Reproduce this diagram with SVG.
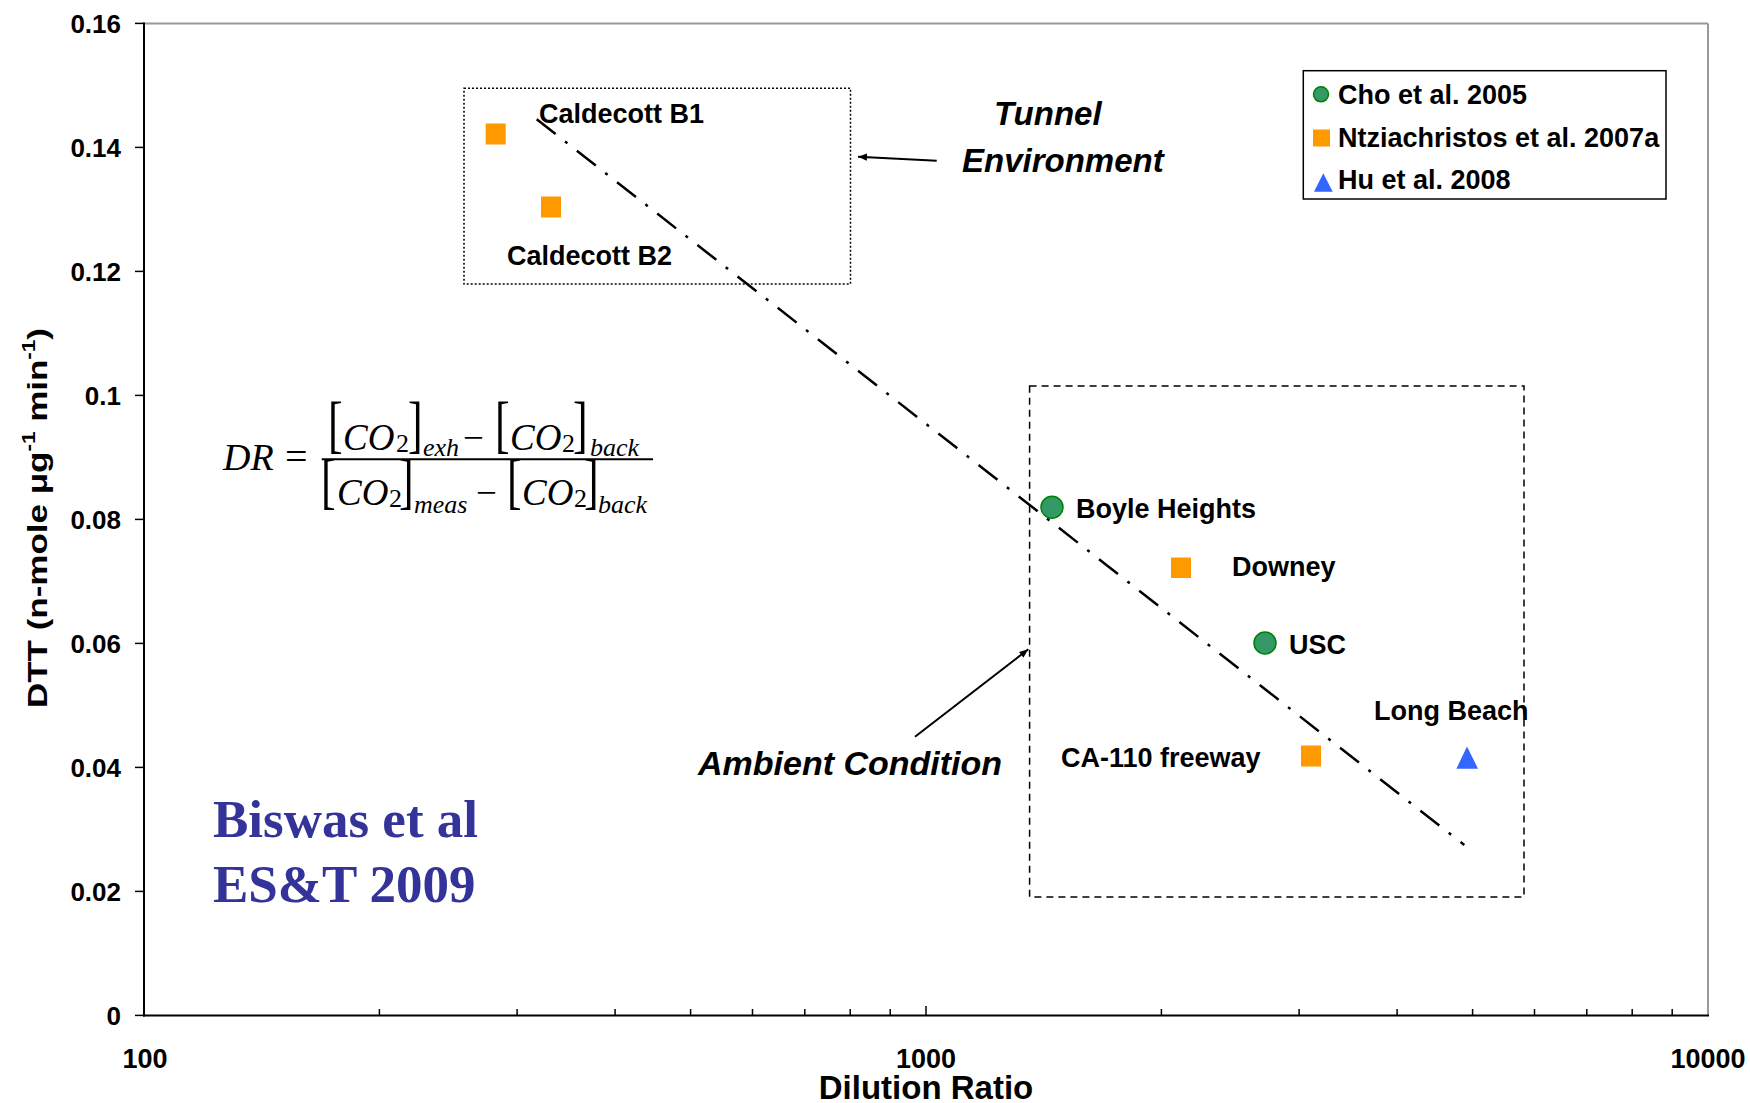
<svg xmlns="http://www.w3.org/2000/svg" width="1750" height="1103" viewBox="0 0 1750 1103">
<style>
.t{font-family:"Liberation Sans",Arial,sans-serif;font-weight:bold;fill:#000}
.tick{font-size:26px}
.xtick{font-size:27px}
.lab{font-size:27px}
.big{font-size:33px;font-style:italic}
.ax{stroke:#000;stroke-width:2;fill:none}
.tk{stroke:#000;stroke-width:1.5}
.sq{fill:#FF9900}
.ci{fill:#339966;stroke:#008000;stroke-width:1.5}
.tr{fill:#3366FF}
.eq{font-family:"Liberation Serif","Times New Roman",serif;fill:#000}
.it{font-style:italic}
.m{font-size:37px}
.s{font-size:26px}
.bn{font-size:44px}
</style>
<defs>
<marker id="ah" viewBox="0 0 10 10" refX="10" refY="5" markerWidth="9" markerHeight="9" markerUnits="userSpaceOnUse" orient="auto">
<path d="M0,1 L10,5 L0,9 z" fill="#000"/>
</marker>
</defs>
<rect width="1750" height="1103" fill="#fff"/>
<g id="plot-frame">
<line x1="144" y1="23.4" x2="1708" y2="23.4" stroke="#999" stroke-width="2"/>
<line x1="1708" y1="23.4" x2="1708" y2="1015.4" stroke="#999" stroke-width="2"/>
<line class="ax" x1="144" y1="22.4" x2="144" y2="1016.4"/>
<line class="ax" x1="143" y1="1015.4" x2="1709" y2="1015.4" stroke-width="2.5"/>
</g>
<g id="y-axis">
<g class="tk">
<line x1="135" y1="23.4" x2="144" y2="23.4"/>
<line x1="135" y1="147.4" x2="144" y2="147.4"/>
<line x1="135" y1="271.4" x2="144" y2="271.4"/>
<line x1="135" y1="395.4" x2="144" y2="395.4"/>
<line x1="135" y1="519.4" x2="144" y2="519.4"/>
<line x1="135" y1="643.4" x2="144" y2="643.4"/>
<line x1="135" y1="767.4" x2="144" y2="767.4"/>
<line x1="135" y1="891.4" x2="144" y2="891.4"/>
<line x1="135" y1="1015.4" x2="144" y2="1015.4"/>
</g>
<g class="t tick" text-anchor="end">
<text x="121" y="33">0.16</text>
<text x="121" y="157">0.14</text>
<text x="121" y="281">0.12</text>
<text x="121" y="405">0.1</text>
<text x="121" y="529">0.08</text>
<text x="121" y="653">0.06</text>
<text x="121" y="777">0.04</text>
<text x="121" y="901">0.02</text>
<text x="121" y="1025">0</text>
</g>
<text class="t" font-size="28" text-anchor="middle" textLength="380" lengthAdjust="spacingAndGlyphs" transform="translate(47,518) rotate(-90)">DTT (n-mole μg<tspan font-size="18" dy="-12">-1</tspan><tspan dy="12"> min</tspan><tspan font-size="18" dy="-12">-1</tspan><tspan dy="12">)</tspan></text>
</g>
<g id="x-axis">
<g class="tk">
<line x1="379.4" y1="1009" x2="379.4" y2="1015"/>
<line x1="517.1" y1="1009" x2="517.1" y2="1015"/>
<line x1="615.1" y1="1009" x2="615.1" y2="1015"/>
<line x1="690.6" y1="1009" x2="690.6" y2="1015"/>
<line x1="752.5" y1="1009" x2="752.5" y2="1015"/>
<line x1="804.8" y1="1009" x2="804.8" y2="1015"/>
<line x1="850.2" y1="1009" x2="850.2" y2="1015"/>
<line x1="890.2" y1="1009" x2="890.2" y2="1015"/>
<line x1="926" y1="1006" x2="926" y2="1015"/>
<line x1="1161.4" y1="1009" x2="1161.4" y2="1015"/>
<line x1="1299.1" y1="1009" x2="1299.1" y2="1015"/>
<line x1="1397.1" y1="1009" x2="1397.1" y2="1015"/>
<line x1="1472.6" y1="1009" x2="1472.6" y2="1015"/>
<line x1="1534.5" y1="1009" x2="1534.5" y2="1015"/>
<line x1="1586.8" y1="1009" x2="1586.8" y2="1015"/>
<line x1="1632.2" y1="1009" x2="1632.2" y2="1015"/>
<line x1="1672.2" y1="1009" x2="1672.2" y2="1015"/>
</g>
<g class="t xtick" text-anchor="middle">
<text x="145" y="1068">100</text>
<text x="926" y="1068">1000</text>
<text x="1708" y="1068">10000</text>
</g>
<text class="t" font-size="33" text-anchor="middle" x="926" y="1099">Dilution Ratio</text>
</g>
<g id="connectors">
<line x1="536.7" y1="119.3" x2="1464.3" y2="845" stroke="#000" stroke-width="2.5" stroke-dasharray="24 12 3 12"/>
<line x1="936.7" y1="160.7" x2="858" y2="156.7" stroke="#000" stroke-width="2" marker-end="url(#ah)"/>
<line x1="915" y1="736.7" x2="1028.3" y2="649.3" stroke="#000" stroke-width="2" marker-end="url(#ah)"/>
</g>
<g id="tunnel-box">
<rect x="464" y="88.3" width="386.5" height="195.7" fill="none" stroke="#000" stroke-width="1.5" stroke-dasharray="2 2"/>
</g>
<g id="ambient-box">
<rect x="1029.6" y="386" width="494.4" height="511" fill="none" stroke="#000" stroke-width="1.5" stroke-dasharray="7 5"/>
</g>
<g id="caldecott-b1">
<rect class="sq" x="485.7" y="123.5" width="20" height="21"/>
<text class="t lab" x="539" y="123">Caldecott B1</text>
</g>
<g id="caldecott-b2">
<rect class="sq" x="541" y="196.5" width="20" height="21"/>
<text class="t lab" x="507" y="265">Caldecott B2</text>
</g>
<g id="tunnel-label">
<text class="t big" x="994" y="125">Tunnel</text>
<text class="t big" x="962" y="172">Environment</text>
</g>
<g id="ambient-label">
<text class="t big" style="font-size:34px" x="698" y="775">Ambient Condition</text>
</g>
<g id="boyle-heights">
<circle class="ci" cx="1052" cy="507.3" r="11"/>
<text class="t lab" x="1076" y="518">Boyle Heights</text>
</g>
<g id="downey">
<rect class="sq" x="1171" y="557.5" width="20" height="20.5"/>
<text class="t lab" x="1232" y="576">Downey</text>
</g>
<g id="usc">
<circle class="ci" cx="1265" cy="643" r="11"/>
<text class="t lab" x="1289" y="653.5">USC</text>
</g>
<g id="ca-110">
<rect class="sq" x="1301" y="745.5" width="20" height="21"/>
<text class="t lab" x="1061" y="767">CA-110 freeway</text>
</g>
<g id="long-beach">
<path class="tr" d="M1467,746.5 L1478,768.7 L1456.4,768.7 Z"/>
<text class="t lab" x="1374" y="720">Long Beach</text>
</g>
<g id="legend">
<rect x="1303.3" y="70.7" width="362.7" height="128.3" fill="#fff" stroke="#000" stroke-width="1.5"/>
<circle class="ci" cx="1321" cy="94.3" r="7.5"/>
<text class="t lab" x="1338" y="104">Cho et al. 2005</text>
<rect class="sq" x="1313" y="129.5" width="17" height="17"/>
<text class="t lab" x="1338" y="147">Ntziachristos et al. 2007a</text>
<path class="tr" d="M1323.3,173.3 L1332.7,191.7 L1314,191.7 Z"/>
<text class="t lab" x="1338" y="189">Hu et al. 2008</text>
</g>
<g id="formula" class="eq">
<text class="it" font-size="38" x="223" y="470">DR</text>
<text font-size="40" x="285" y="470">=</text>
<line x1="321.7" y1="459.3" x2="653" y2="459.3" stroke="#000" stroke-width="2"/>
<text class="bn" transform="translate(328,445) scale(1,1.45)">[</text>
<text class="it m" x="343" y="450">CO</text>
<text class="s" x="396" y="452">2</text>
<text class="bn" transform="translate(408,445) scale(1,1.45)">]</text>
<text class="it s" x="423" y="456">exh</text>
<text class="m" x="463" y="450">−</text>
<text class="bn" transform="translate(495,445) scale(1,1.45)">[</text>
<text class="it m" x="510" y="450">CO</text>
<text class="s" x="562" y="452">2</text>
<text class="bn" transform="translate(573,445) scale(1,1.45)">]</text>
<text class="it s" x="590" y="456">back</text>
<text class="bn" transform="translate(321,502) scale(1,1.38)">[</text>
<text class="it m" x="337" y="505">CO</text>
<text class="s" x="389" y="507">2</text>
<text class="bn" transform="translate(399,502) scale(1,1.38)">]</text>
<text class="it s" x="414" y="513">meas</text>
<text class="m" x="476" y="505">−</text>
<text class="bn" transform="translate(507,502) scale(1,1.38)">[</text>
<text class="it m" x="522" y="505">CO</text>
<text class="s" x="574" y="507">2</text>
<text class="bn" transform="translate(584,502) scale(1,1.38)">]</text>
<text class="it s" x="598" y="513">back</text>
</g>
<g id="citation" font-family="Liberation Serif,Times New Roman,serif" font-weight="bold" font-size="53" fill="#333399">
<text x="213" y="837">Biswas et al</text>
<text x="213" y="902">ES&amp;T 2009</text>
</g>
</svg>
